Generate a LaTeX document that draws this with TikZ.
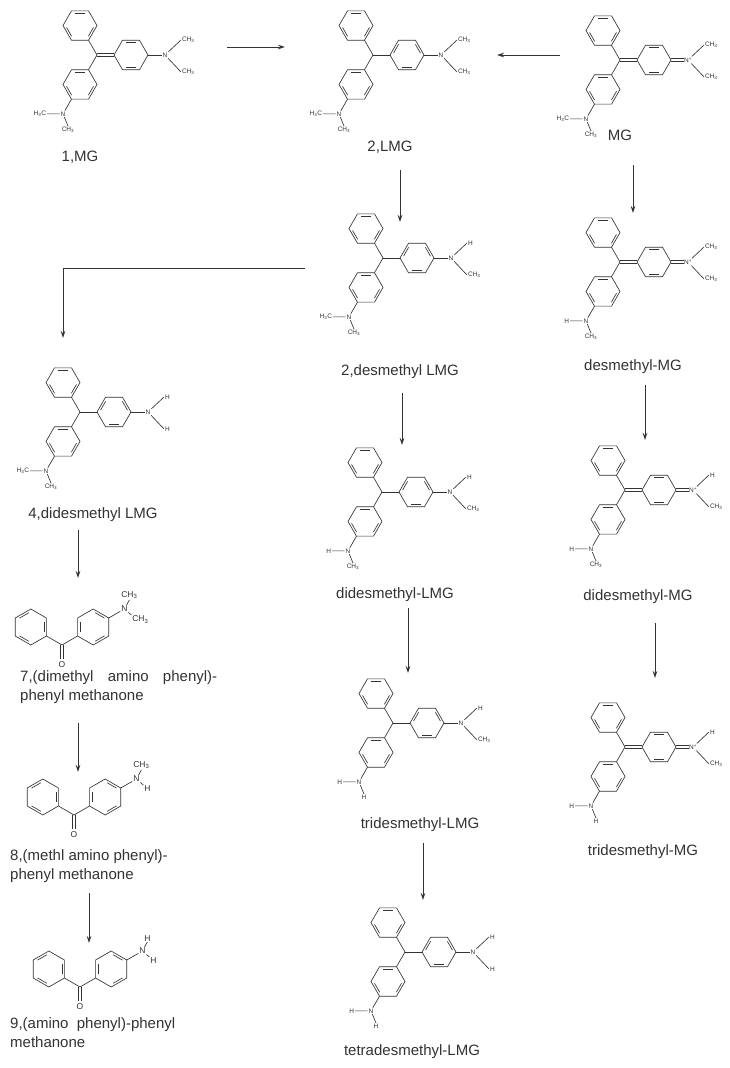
\documentclass[tikz,border=0pt]{standalone}
\usepackage{fontspec}
\setmainfont{Liberation Sans}
\usetikzlibrary{calc,arrows.meta}
\definecolor{ink}{HTML}{333333}
\tikzset{
  bond/.style={draw=ink,line width=0.65pt},
  atm/.style={font=\fontsize{6.5}{7}\selectfont,inner sep=0.8pt,text=ink},
  atk/.style={font=\fontsize{8.5}{9}\selectfont,inner sep=0.8pt,text=ink},
  nm/.style={font=\fontsize{15}{19}\selectfont,text=ink,inner sep=0pt},
  rx/.style={draw=ink,line width=0.8pt,-{Stealth[length=7pt,width=4.5pt]}}
}
\newcommand\Ring[4]{%
  \draw[bond] ($(#1)+(#2:#3)$) \foreach \k in {1,...,5}{ -- ($(#1)+(#2+\k*60:#3)$)} -- cycle;
  \foreach \a in {#4}{\draw[bond] ($(#1)+(\a+8:0.8*#3)$) -- ($(#1)+(\a+52:0.8*#3)$);}
}
% name, x, y, type(0 leuco,1 MG single N,2 MG N+), right-up, right-down, left-side, left-down
\newcommand\tpm[8]{%
\begin{scope}[shift={(#2,#3)}]
  \draw[bond] (0,0) -- (240:17) (0,0) -- (120:17);
  \ifnum#4=0 \draw[bond] (0,0) -- (17,0);
  \else \draw[bond] (0,-1.3) -- (17,-1.3) (0,1.3) -- (17,1.3); \fi
  \Ring{240:34}{0}{17}{0,120,240}
  \Ring{120:34}{0}{17}{0,120,240}
  \ifnum#4=0 \Ring{34,0}{0}{17}{60,180,300}\else \Ring{34,0}{0}{17}{60,240}\fi
  \ifnum#4=2
    \node[atm] (#1rn) at (68,0) {N\textsuperscript{+}};
    \draw[bond] (51,-1.3) -- (64,-1.3) (51,1.3) -- (64,1.3);
  \else
    \node[atm] (#1rn) at (68,0) {N};
    \draw[bond] (51,0) -- (#1rn);
  \fi
  \node[atm,anchor=west] (#1ru) at (84,-15) {#5};
  \node[atm,anchor=west] (#1rd) at (84,17) {#6};
  \draw[bond] (#1rn) -- (#1ru.west) (#1rn) -- (#1rd.west);
  \node[atm] (#1ln) at (-34,58.9) {N};
  \draw[bond] (120:51) -- (#1ln);
  \node[atm,anchor=east] (#1ll) at (-50,58.9) {#7};
  \node[atm,anchor=north] (#1ld) at (-29,71) {#8};
  \draw[bond] (#1ln) -- (#1ll.east) (#1ln) -- (#1ld.north);
\end{scope}}
% name, x, y, up label, down label
\newcommand\keto[5]{%
\begin{scope}[shift={(#2,#3)}]
  \draw[bond] (0,0) -- (210:18) (0,0) -- (330:18);
  \Ring{210:36}{30}{18}{90,210,330}
  \Ring{330:36}{30}{18}{30,150,270}
  \draw[bond] (-1.3,0) -- (-1.3,14) (1.3,0) -- (1.3,14);
  \node[atk] (#1o) at (0,20) {O};
  \node[atk] (#1n) at (330:72) {N};
  \draw[bond] (330:54) -- (#1n);
  \node[atk,anchor=south] (#1u) at ($(330:72)+(5,-9)$) {#4};
  \node[atk,anchor=north west] (#1d) at ($(330:72)+(7,6)$) {#5};
  \draw[bond] (#1n) -- (#1u.south) (#1n) -- (#1d.north west);
\end{scope}}
\def\me{CH\textsubscript{3}}
\def\mel{H\textsubscript{3}C}
\begin{document}
\begin{tikzpicture}[x=1pt,y=-1pt]
\useasboundingbox[fill=white] (0,0) rectangle (729,1068);
\tpm{a}{97}{55}{1}{\me}{\me}{\mel}{\me}
\tpm{b}{373}{55}{0}{\me}{\me}{\mel}{\me}
\tpm{c}{620}{60}{2}{\me}{\me}{\mel}{\me}
\tpm{d}{383}{258}{0}{H}{\me}{\mel}{\me}
\tpm{e}{620}{262}{2}{\me}{\me}{H}{\me}
\tpm{f}{80}{412}{0}{H}{H}{\mel}{\me}
\tpm{g}{382}{492}{0}{H}{\me}{H}{\me}
\tpm{h}{625}{490}{2}{H}{\me}{H}{\me}
\tpm{i}{393}{723}{0}{H}{\me}{H}{H}
\tpm{j}{625}{747}{2}{H}{\me}{H}{H}
\tpm{k}{405}{952}{0}{H}{H}{H}{H}
\keto{p}{62}{645}{\me}{\me}
\keto{q}{74}{815}{\me}{H}
\keto{r}{80}{987}{H}{H}
% names
\node[nm] (na) at (80,157) {1,MG};
\node[nm] (nb) at (390,147) {2,LMG};
\node[nm] (nc) at (620,135) {MG};
\node[nm] (nd) at (400,372) {2,desmethyl LMG};
\node[nm] (ne) at (633,367) {desmethyl-MG};
\node[nm] (nf) at (93,515) {4,didesmethyl LMG};
\node[nm] (ng) at (395,595) {didesmethyl-LMG};
\node[nm] (nh) at (638,597) {didesmethyl-MG};
\node[nm] (ni) at (420,825) {tridesmethyl-LMG};
\node[nm] (nj) at (643,852) {tridesmethyl-MG};
\node[nm] (nk) at (412,1052) {tetradesmethyl-LMG};
\node[nm,anchor=north west,align=left] (np) at (20,670) {\makebox[197pt][s]{7,(dimethyl amino phenyl)-}\\phenyl methanone};
\node[nm,anchor=north west,align=left] (nq) at (10,849) {8,(methl amino phenyl)-\\phenyl methanone};
\node[nm,anchor=north west,align=left] (nr) at (10,1017) {9,(amino\ \ phenyl)-phenyl\\methanone};
% arrows
\coordinate (s1) at (227,47); \coordinate (t1) at (285,47);
\coordinate (s2) at (560,55); \coordinate (t2) at (497,55);
\coordinate (s3) at (400,170); \coordinate (t3) at (400,222);
\coordinate (s4) at (633,165); \coordinate (t4) at (633,213);
\coordinate (s5) at (305,268); \coordinate (t5) at (63,338);
\coordinate (s6) at (402,393); \coordinate (t6) at (402,445);
\coordinate (s7) at (645,385); \coordinate (t7) at (645,440);
\coordinate (s8) at (408,608); \coordinate (t8) at (408,673);
\coordinate (s9) at (655,623); \coordinate (t9) at (655,678);
\coordinate (s10) at (423,843); \coordinate (t10) at (423,900);
\coordinate (s11) at (78,530); \coordinate (t11) at (78,578);
\coordinate (s12) at (78,723); \coordinate (t12) at (78,772);
\coordinate (s13) at (89,893); \coordinate (t13) at (89,943);
\foreach \n in {1,2,3,4,6,7,8,9,10,11,12,13}{\draw[rx] (s\n) -- (t\n);}
\draw[rx] (s5) -| (t5);
\end{tikzpicture}
\end{document}
